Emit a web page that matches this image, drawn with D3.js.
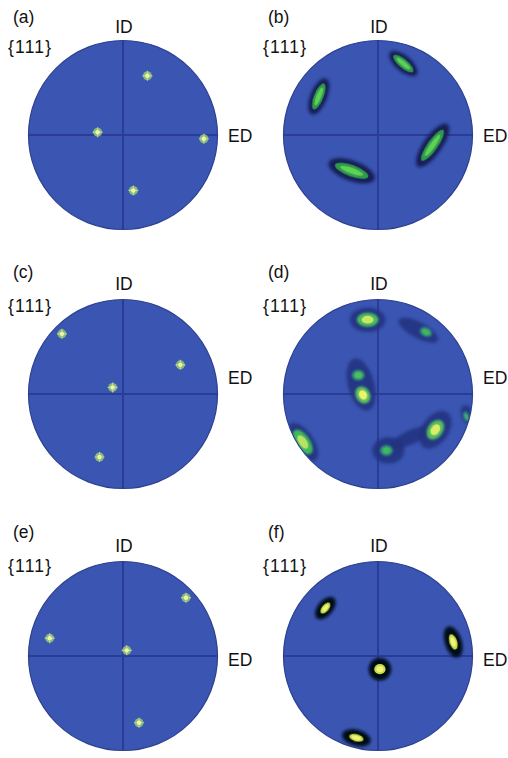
<!DOCTYPE html>
<html><head><meta charset="utf-8">
<script src="https://cdn.jsdelivr.net/npm/d3@7"></script>
<style>html,body{margin:0;padding:0;background:#fff;}svg{display:block;}</style>
</head><body>
<script>
// ---- data ----
const panelLabels = ["(a)", "(b)", "(c)", "(d)", "(e)", "(f)"];
const planeLabel = "{111}";
const axisLabels = ["ID", "ED"];
// sharp spots: [ED, ID] in pole-figure units (-1..1)
const spotsA = [[0.26, 0.63], [-0.27, 0.03], [0.86, -0.04], [0.11, -0.59]];
const spotsC = [[-0.65, 0.64], [0.61, 0.31], [-0.11, 0.07], [-0.25, -0.67]];
const spotsE = [[0.67, 0.62], [-0.78, 0.19], [0.04, 0.06], [0.17, -0.71]];
// elongated spots: [ED, ID, length, width, angle(deg)]
const spotsB = [[0.27, 0.76, 0.37, 0.17, 40], [-0.63, 0.41, 0.41, 0.18, -68], [0.58, -0.11, 0.55, 0.20, -55], [-0.28, -0.38, 0.52, 0.22, 20]];
const spotsF = [[-0.56, 0.51, 0.28, 0.16, -50], [0.80, 0.15, 0.34, 0.18, 72], [0.02, -0.14, 0.24, 0.24, 0], [-0.23, -0.87, 0.31, 0.17, 15]];
// panel (d): low-density halos [ED, ID, length, width, angle] and peaks [ED, ID, length, width, angle, intensity]
const halosD = [[-0.11, 0.79, 0.38, 0.26, 0], [0.43, 0.68, 0.47, 0.17, 28], [-0.18, 0.10, 0.57, 0.28, 75], [0.61, -0.38, 0.45, 0.28, -55], [0.11, -0.60, 0.34, 0.28, 0], [0.35, -0.46, 0.47, 0.15, -25], [-0.80, -0.51, 0.47, 0.23, 55], [0.95, -0.22, 0.21, 0.13, 70]];
const peaksD = [[-0.11, 0.79, 0.23, 0.15, 0, 0.9], [0.51, 0.66, 0.13, 0.09, 25, 0.5], [-0.21, 0.20, 0.13, 0.11, 0, 0.55], [-0.16, -0.01, 0.19, 0.15, 60, 1], [0.61, -0.38, 0.23, 0.16, -55, 0.95], [0.09, -0.60, 0.13, 0.11, 0, 0.5], [-0.80, -0.51, 0.30, 0.15, 55, 0.85], [0.94, -0.24, 0.11, 0.06, 70, 0.4]];

// ---- layout ----
const W = 508, H = 758;
const colX = [123, 378], rowY = [135, 394, 656], R = 94;
const labelRows = [{p: 23, h: 53, id: 33, ed: 142}, {p: 278, h: 312, id: 290, ed: 384}, {p: 538, h: 572, id: 552, ed: 666}];
const fill = "#3a56b2", lineCol = "#2a3c96";

const svg = d3.select("body").append("svg").attr("width", W).attr("height", H);
const defs = svg.append("defs");
[["b1", 0.7], ["b2", 1.6], ["b3", 2.2], ["b4", 1.0]].forEach(([id, s]) => {
  defs.append("filter").attr("id", id).attr("x", "-50%").attr("y", "-50%").attr("width", "200%").attr("height", "200%")
    .append("feGaussianBlur").attr("stdDeviation", s);
});
const fontFam = "'Liberation Sans', Arial, Helvetica, sans-serif";

const spotColor = d3.scaleLinear().domain([0, 0.5, 1]).range(["#2f7fa0", "#3cb85a", "#eef26a"]);

panelLabels.forEach((lab, i) => {
  const col = i % 2, row = Math.floor(i / 2);
  const cx = colX[col], cy = rowY[row];
  const x = d3.scaleLinear().domain([-1, 1]).range([cx - R, cx + R]);
  const y = d3.scaleLinear().domain([-1, 1]).range([cy + R, cy - R]);
  const s = d3.scaleLinear().domain([0, 1]).range([0, R]);
  const g = svg.append("g");
  const clipId = "clip" + i;
  defs.append("clipPath").attr("id", clipId).append("circle").attr("cx", cx).attr("cy", cy).attr("r", R);

  g.append("circle").attr("cx", cx).attr("cy", cy).attr("r", R + 0.5).attr("fill", fill).attr("stroke", "#2d4090").attr("stroke-width", 1.2);
  const inner = g.append("g").attr("clip-path", `url(#${clipId})`);
  inner.append("line").attr("x1", x(0)).attr("x2", x(0)).attr("y1", y(1)).attr("y2", y(-1)).attr("stroke", lineCol).attr("stroke-width", 2);
  inner.append("line").attr("x1", x(-1)).attr("x2", x(1)).attr("y1", y(0)).attr("y2", y(0)).attr("stroke", lineCol).attr("stroke-width", 2);

  const ell = (sel, d, k, kw, color, filt, op) => sel.append("ellipse")
    .attr("cx", x(d[0])).attr("cy", y(d[1]))
    .attr("rx", s(d[2] / 2) * k).attr("ry", s(d[3] / 2) * kw)
    .attr("transform", `rotate(${d[4] || 0},${x(d[0])},${y(d[1])})`)
    .attr("fill", color).attr("opacity", op == null ? 1 : op)
    .attr("filter", filt ? `url(#${filt})` : null);

  if (i === 0 || i === 2 || i === 4) {
    const sp = i === 0 ? spotsA : i === 2 ? spotsC : spotsE;
    sp.forEach(d => {
      inner.append("circle").attr("cx", x(d[0])).attr("cy", y(d[1])).attr("r", 4.5).attr("fill", "#8fc47a").attr("opacity", 0.9).attr("filter", "url(#b1)");
      inner.append("path").attr("d", `M${x(d[0]) - 5},${y(d[1])}L${x(d[0]) + 5},${y(d[1])}M${x(d[0])},${y(d[1]) - 5}L${x(d[0])},${y(d[1]) + 5}`)
        .attr("stroke", "#c4df8c").attr("stroke-width", 1.2).attr("opacity", 0.8);
      inner.append("circle").attr("cx", x(d[0])).attr("cy", y(d[1])).attr("r", 2.2).attr("fill", "#f4f4a8");
    });
  } else if (i === 1) {
    spotsB.forEach(d => {
      ell(inner, d, 1.0, 1.0, "#141c55", "b2", 0.95);
      ell(inner, d, 0.72, 0.55, "#2f9a48", "b1");
      ell(inner, d, 0.5, 0.28, "#5fcf58", "b1");
    });
  } else if (i === 3) {
    halosD.forEach(d => ell(inner, d, 1.0, 1.0, "#23307e", "b2", 0.85));
    peaksD.forEach(d => {
      ell(inner, d, 1.0, 1.0, spotColor(d[5] * 0.6), "b4");
      ell(inner, d, 0.55, 0.55, spotColor(d[5]), "b1");
    });
  } else {
    spotsF.forEach(d => {
      ell(inner, d, 1.0, 1.0, "#050818", "b2");
      ell(inner, d, 0.5, 0.45, "#c9df4a", "b1");
      ell(inner, d, 0.3, 0.25, "#f2f47a", "b1");
    });
  }

  const L = labelRows[row];
  const txt = (t, tx, ty, anchor, ls) => svg.append("text").attr("x", tx).attr("y", ty).attr("text-anchor", anchor || "start")
    .attr("font-family", fontFam).attr("font-size", 17.5).attr("fill", "#111").attr("letter-spacing", ls || 0).text(t);
  txt(lab, cx - 110, L.p);
  txt(planeLabel, cx - 115, L.h, "start", 1.2);
  txt(axisLabels[0], cx + 1, L.id, "middle");
  txt(axisLabels[1], cx + 105, L.ed);
});
</script>
</body></html>
